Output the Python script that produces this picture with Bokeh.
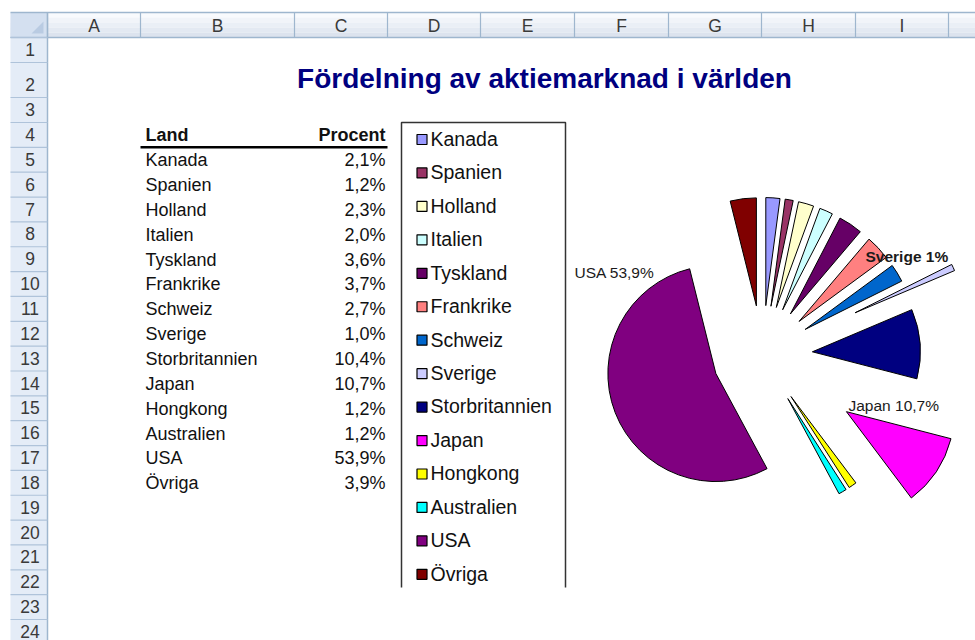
import math
from bokeh.plotting import figure
from bokeh.models import Range1d, ColumnDataSource
from bokeh.embed import file_html
from bokeh.resources import INLINE
from bokeh.core.properties import value

# ---------------- data ----------------
title = "Fördelning av aktiemarknad i världen"
header_land = "Land"
header_procent = "Procent"
countries = ["Kanada", "Spanien", "Holland", "Italien", "Tyskland", "Frankrike",
             "Schweiz", "Sverige", "Storbritannien", "Japan", "Hongkong",
             "Australien", "USA", "Övriga"]
percent = [2.1, 1.2, 2.3, 2.0, 3.6, 3.7, 2.7, 1.0, 10.4, 10.7, 1.2, 1.2, 53.9, 3.9]
col_letters = ["A", "B", "C", "D", "E", "F", "G", "H", "I"]
row_numbers = list(range(1, 25))
labelled = {"USA": "{n} {v:.1f}%", "Sverige": "{n} {v:g}%", "Japan": "{n} {v:.1f}%"}

# ---------------- style / layout ----------------
colors = ["#9999FF", "#993366", "#FFFFCC", "#CCFFFF", "#660066", "#FF8080",
          "#0066CC", "#CCCCFF", "#000080", "#FF00FF", "#FFFF00", "#00FFFF",
          "#800080", "#800000"]
W, H = 975, 640
FONT = "Liberation Sans"
col_edges = [47, 140, 294, 387, 480, 574, 668, 761, 855, 948, 1041]
row_edges = [37, 62, 97, 122] + [122 + 24.85 * k for k in range(1, 22)]
HEAD_TOP, HEAD_BOT, ROWHEAD_L, ROWHEAD_R = 12, 37, 10, 47
GRID_LINE = "#9EB6CE"
SHIFT = 0.39  # empirical baseline correction (fraction of font size)


def Y(ys):
    return H - ys


def TY(ys, size):
    # screen baseline -> data y, corrected for renderer baseline offset
    return H - (ys - SHIFT * size)


p = figure(width=W, height=H, x_range=Range1d(0, W), y_range=Range1d(0, H),
           output_backend="svg", toolbar_location=None, min_border=0)
p.axis.visible = False
p.grid.visible = False
p.outline_line_color = None
p.background_fill_color = "white"
p.border_fill_color = "white"

# ---------- column header band (gradient) ----------
grad = ["#F8FAFD", "#F1F4F9", "#EAEFF6", "#E3E9F2", "#DCE3EE"]
n = len(grad)
step = (HEAD_BOT - HEAD_TOP) / n
p.quad(left=[ROWHEAD_L] * n, right=[W] * n,
       top=[Y(HEAD_TOP + i * step) for i in range(n)],
       bottom=[Y(HEAD_TOP + (i + 1) * step) for i in range(n)],
       fill_color=grad, line_color=None)
# row header band
p.quad(left=[ROWHEAD_L], right=[ROWHEAD_R], top=[Y(HEAD_BOT)], bottom=[0],
       fill_color="#E4ECF7", line_color=None)
# corner cell
p.quad(left=[ROWHEAD_L], right=[ROWHEAD_R], top=[Y(HEAD_TOP)], bottom=[Y(HEAD_BOT)],
       fill_color="#D4E0F0", line_color=None)
p.patch(x=[ROWHEAD_R - 4, ROWHEAD_R - 4, ROWHEAD_R - 16],
        y=[Y(HEAD_BOT - 4), Y(HEAD_BOT - 16), Y(HEAD_BOT - 4)],
        fill_color="#B9CBE2", line_color=None)

# header lines
p.segment(x0=[ROWHEAD_L, ROWHEAD_L], x1=[W, W], y0=[Y(HEAD_TOP), Y(HEAD_BOT)],
          y1=[Y(HEAD_TOP), Y(HEAD_BOT)], line_color=GRID_LINE, line_width=1.5)
p.segment(x0=col_edges, x1=col_edges, y0=[Y(HEAD_TOP)] * len(col_edges),
          y1=[Y(HEAD_BOT)] * len(col_edges), line_color=GRID_LINE, line_width=1.2)
p.segment(x0=[ROWHEAD_R], x1=[ROWHEAD_R], y0=[Y(HEAD_TOP)], y1=[0],
          line_color=GRID_LINE, line_width=1.5)
p.segment(x0=[ROWHEAD_L] * len(row_edges), x1=[ROWHEAD_R] * len(row_edges),
          y0=[Y(r) for r in row_edges], y1=[Y(r) for r in row_edges],
          line_color="#AFC3DA", line_width=1.2)

# column letters
cx = [(col_edges[i] + col_edges[i + 1]) / 2 for i in range(len(col_letters))]
p.text(x=cx, y=[TY(HEAD_BOT - 5, 17.5)] * len(cx), text=col_letters,
       text_font=value(FONT), text_font_size=value("17.5px"), text_color="#3A3A3A",
       text_align="center", text_baseline="alphabetic")
# row numbers
p.text(x=[(ROWHEAD_L + ROWHEAD_R) / 2 + 1] * len(row_numbers),
       y=[TY(row_edges[i + 1] - 6, 17.5) for i in range(len(row_numbers))],
       text=[str(r) for r in row_numbers],
       text_font=value(FONT), text_font_size=value("17.5px"), text_color="#3A3A3A",
       text_align="center", text_baseline="alphabetic")

# ---------- title ----------
p.text(x=[(col_edges[1] + col_edges[9]) / 2], y=[TY(89, 28)], text=[title],
       text_font=value(FONT), text_font_size=value("28px"), text_font_style="bold",
       text_color="#000080", text_align="center", text_baseline="alphabetic")

# ---------- table ----------
hdr_base = TY(row_edges[4] - 5, 18)
p.text(x=[col_edges[1] + 5], y=[hdr_base], text=[header_land], text_font=value(FONT),
       text_font_size=value("18px"), text_font_style="bold", text_color="#111111",
       text_align="left", text_baseline="alphabetic")
p.text(x=[col_edges[3] - 2], y=[hdr_base], text=[header_procent], text_font=value(FONT),
       text_font_size=value("18px"), text_font_style="bold", text_color="#111111",
       text_align="right", text_baseline="alphabetic")
p.segment(x0=[col_edges[1]], x1=[col_edges[3]], y0=[Y(row_edges[4])], y1=[Y(row_edges[4])],
          line_color="black", line_width=2.5)
vals_txt = [("%.1f" % v).replace(".", ",") + "%" for v in percent]
rows_y = [TY(row_edges[5 + i] - 5, 18) for i in range(len(countries))]
p.text(x=[col_edges[1] + 5] * len(countries), y=rows_y, text=countries,
       text_font=value(FONT), text_font_size=value("18px"), text_color="#111111",
       text_align="left", text_baseline="alphabetic")
p.text(x=[col_edges[3] - 2] * len(countries), y=rows_y, text=vals_txt,
       text_font=value(FONT), text_font_size=value("18px"), text_color="#111111",
       text_align="right", text_baseline="alphabetic")

# ---------- legend ----------
LG_L, LG_R, LG_T, LG_B = 401, 565, 122, 587
LEG_FS = 19.5
p.line(x=[LG_L, LG_L, LG_R, LG_R], y=[Y(LG_B), Y(LG_T), Y(LG_T), Y(LG_B)],
       line_color="#333333", line_width=1.5)
leg_y = [139 + 33.45 * i for i in range(len(countries))]
p.rect(x=[421.5] * len(countries), y=[Y(v) for v in leg_y], width=10, height=10,
       fill_color=colors, line_color="black", line_width=1.2)
p.text(x=[430] * len(countries), y=[TY(v + 7, LEG_FS) for v in leg_y], text=countries,
       text_font=value(FONT), text_font_size=value("%.1fpx" % LEG_FS), text_color="#111111",
       text_align="left", text_baseline="alphabetic")

# ---------- exploded pie ----------
PCX, PCY, R = 762, 355, 108
explode = {"Japan": 101, "Sverige": 102}
total = sum(percent)
cum = 0.0
xs, ys, sa, ea = [], [], [], []
for name, v in zip(countries, percent):
    t0 = cum / total * 2 * math.pi
    cum += v
    t1 = cum / total * 2 * math.pi
    mid = (t0 + t1) / 2
    d = explode.get(name, 50)
    xs.append(PCX + d * math.sin(mid))
    ys.append(Y(PCY) + d * math.cos(mid))
    sa.append(math.pi / 2 - t1)
    ea.append(math.pi / 2 - t0)
src = ColumnDataSource(dict(x=xs, y=ys, sa=sa, ea=ea, c=colors))
p.wedge(x="x", y="y", radius=R, start_angle="sa", end_angle="ea", direction="anticlock",
        fill_color="c", line_color="black", line_width=1, source=src)

# data labels
label_pos = {"USA": (574, 278, "normal"), "Sverige": (865, 262, "bold"),
             "Japan": (848, 411, "normal")}
for name, fmt in labelled.items():
    v = percent[countries.index(name)]
    txt = fmt.format(n=name, v=v).replace(".", ",")
    lx, ly, st = label_pos[name]
    p.text(x=[lx], y=[TY(ly, 15.5)], text=[txt], text_font=value(FONT),
           text_font_size=value("15.5px"), text_font_style=st, text_color="#1A1A1A",
           text_align="left", text_baseline="alphabetic")

open("out.html", "w").write(file_html(p, INLINE))
